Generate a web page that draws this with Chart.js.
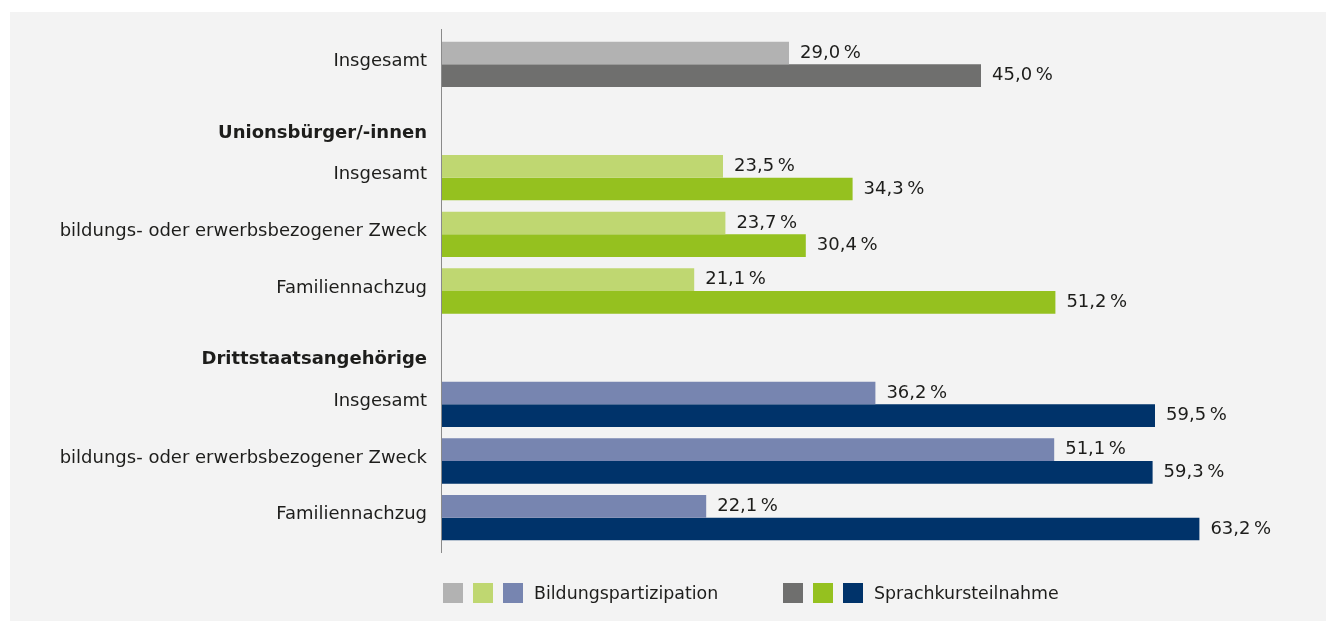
<!DOCTYPE html>
<html>
<head>
<meta charset="utf-8">
<script src="https://cdn.jsdelivr.net/npm/chart.js@4.4.1/dist/chart.umd.min.js"></script>
<style>
    html, body { margin: 0; padding: 0; background: #ffffff; }
    #wrap { position: relative; width: 1328px; height: 621px; overflow: hidden; }
    #panel { position: absolute; left: 10px; top: 12px; width: 1316px; height: 609px; background: #f3f3f3; }
    #chartCanvas { position: absolute; left: 0; top: 0; }
    .legend { position: absolute; top: 583px; height: 20px; display: flex; align-items: center;
              font-family: 'DejaVu Sans', sans-serif; font-size: 17.4px; color: #1d1d1b; white-space: nowrap; }
    .legend .box { width: 20px; height: 20px; margin-right: 10px; flex: none; }
    .legend .txt { margin-left: 1px; }
</style>
</head>
<body>
<div id="wrap">
    <div id="panel"></div>
    <canvas id="chartCanvas" width="1328" height="621"></canvas>
    <div class="legend" id="legend0" style="left:443px"></div>
    <div class="legend" id="legend1" style="left:783px"></div>
</div>
<script>
// Kategorien (Zeilen von oben nach unten)
const categories = [
    'Insgesamt',
    'Unionsbürger/-innen',
    'Insgesamt',
    'bildungs- oder erwerbsbezogener Zweck',
    'Familiennachzug',
    'Drittstaatsangehörige',
    'Insgesamt',
    'bildungs- oder erwerbsbezogener Zweck',
    'Familiennachzug'
];
const headerRows = [1, 5]; // Zwischenüberschriften ohne Balken

// Werte in Prozent
const bildungValues = [29.0, null, 23.5, 23.7, 21.1, null, 36.2, 51.1, 22.1];
const sprachValues = [45.0, null, 34.3, 30.4, 51.2, null, 59.5, 59.3, 63.2];

// Gruppe je Zeile: 0 = gesamt, 1 = Unionsbürger, 2 = Drittstaaten
const rowGroup = [0, null, 1, 1, 1, null, 2, 2, 2];
const lightPalette = ['#b2b2b2', '#bfd771', '#7785b0'];
const darkPalette = ['#6f6f6e', '#95c11f', '#00336a'];
const legendLabels = ['Bildungspartizipation', 'Sprachkursteilnahme'];

const fontFamily = "'DejaVu Sans', sans-serif";
const textColor = '#1d1d1b';

function colorsFor(palette) {
    return rowGroup.map(g => g === null ? 'rgba(0,0,0,0)' : palette[g]);
}

function formatPct(v) {
    return v.toFixed(1).replace('.', ',') + '\u2009%';
}

// Überschriften sitzen etwas tiefer: leere erste Zeile schiebt sie nach unten
const axisLabels = categories.map((c, i) => headerRows.includes(i) ? ['', c] : c);

// Wertebeschriftungen + senkrechte Achse
const labelPlugin = {
    id: 'valueLabels',
    afterDatasetsDraw(chart) {
        const ctx = chart.ctx;
        const area = chart.chartArea;
        ctx.save();
        ctx.strokeStyle = '#8a8a8a';
        ctx.lineWidth = 1;
        ctx.beginPath();
        ctx.moveTo(area.left + 0.5, area.top - 7);
        ctx.lineTo(area.left + 0.5, area.bottom + 7);
        ctx.stroke();

        ctx.font = '18px ' + fontFamily;
        ctx.fillStyle = textColor;
        ctx.textBaseline = 'middle';
        ctx.textAlign = 'left';
        chart.data.datasets.forEach((ds, i) => {
            const meta = chart.getDatasetMeta(i);
            meta.data.forEach((bar, j) => {
                const v = ds.data[j];
                if (v === null) return;
                ctx.fillText(formatPct(v), bar.x + 11, bar.y);
            });
        });
        ctx.restore();
    }
};

const ctx = document.getElementById('chartCanvas').getContext('2d');
const chart = new Chart(ctx, {
    type: 'bar',
    data: {
        labels: axisLabels,
        datasets: [{
            label: legendLabels[0],
            data: bildungValues,
            backgroundColor: colorsFor(lightPalette),
            borderWidth: 0
        }, {
            label: legendLabels[1],
            data: sprachValues,
            backgroundColor: colorsFor(darkPalette),
            borderWidth: 0
        }]
    },
    options: {
        indexAxis: 'y',
        responsive: false,
        animation: false,
        layout: { padding: { left: 0, right: 47, top: 36, bottom: 75 } },
        datasets: { bar: { categoryPercentage: 0.8, barPercentage: 1.0 } },
        plugins: {
            legend: { display: false },
            tooltip: { enabled: false }
        },
        scales: {
            x: {
                display: false,
                min: 0,
                max: 70
            },
            y: {
                grid: { display: false, drawTicks: false },
                border: { display: false },
                afterFit: (scale) => { scale.width = 441; },
                ticks: {
                    autoSkip: false,
                    padding: 14,
                    labelOffset: -3,
                    color: textColor,
                    font: (c) => headerRows.includes(c.index)
                        ? { family: fontFamily, size: 18, weight: 'bold', lineHeight: '30px' }
                        : { family: fontFamily, size: 18, weight: 'normal' }
                }
            }
        }
    },
    plugins: [labelPlugin]
});

// Legende: je drei Farbkästchen pro Reihe
[lightPalette, darkPalette].forEach((pal, k) => {
    const el = document.getElementById('legend' + k);
    pal.forEach(c => {
        const b = document.createElement('span');
        b.className = 'box';
        b.style.background = c;
        el.appendChild(b);
    });
    const t = document.createElement('span');
    t.className = 'txt';
    t.textContent = legendLabels[k];
    el.appendChild(t);
});
</script>
</body>
</html>
